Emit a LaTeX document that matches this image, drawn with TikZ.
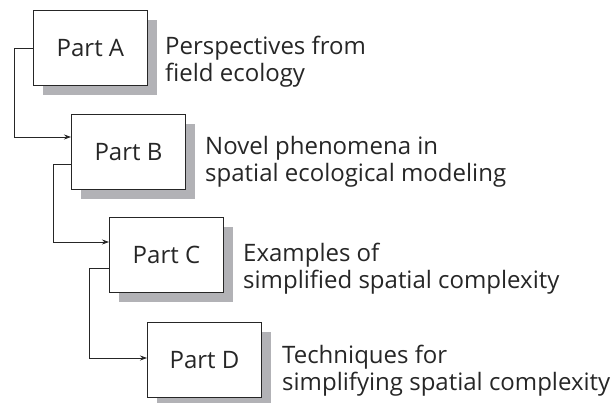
\documentclass[tikz,border=0pt]{standalone}
\usepackage{fontspec}
\setmainfont{Open Sans}
\usetikzlibrary{shadows,arrows.meta}
\definecolor{ink}{HTML}{262626}
\definecolor{shade}{HTML}{B2B2B6}
\begin{document}
\begin{tikzpicture}[x=1pt,y=-1pt,
  partbox/.style={draw=ink, line width=0.9pt, fill=white, minimum width=114pt,
    minimum height=75pt, inner sep=0pt, anchor=north west, text=ink,
    font=\fontsize{24}{27}\selectfont,
    general shadow={shadow xshift=10pt, shadow yshift=-10pt, fill=shade}},
  desc/.style={anchor=base west, align=left, inner sep=0pt, text=ink,
    font=\fontsize{24}{27}\selectfont},
  link/.style={draw=ink, line width=0.8pt, -{Stealth[length=7pt,width=5pt]}}]
\useasboundingbox (0,0) rectangle (612,403);
\node[partbox] (A) at (33,10) {Part A};
\node[partbox] (B) at (71,114) {Part B};
\node[partbox] (C) at (109,217) {Part C};
\node[partbox] (D) at (147,322) {Part D};
\node[desc] (dA) at (165,82) {Perspectives from\\field ecology};
\node[desc] (dB) at (205,182) {Novel phenomena in\\spatial ecological modeling};
\node[desc] (dC) at (243,288) {Examples of\\simplified spatial complexity};
\node[desc] (dD) at (282,390) {Techniques for\\simplifying spatial complexity};
\coordinate (a1) at (14,48);
\coordinate (b1) at (53,164);
\coordinate (c1) at (89,268);
\draw[link] (a1 -| A.west) -- (a1) |- (B.west |- 0,137);
\draw[link] (b1 -| B.west) -- (b1) |- (C.west |- 0,242);
\draw[link] (c1 -| C.west) -- (c1) |- (D.west |- 0,358);
\end{tikzpicture}
\end{document}
